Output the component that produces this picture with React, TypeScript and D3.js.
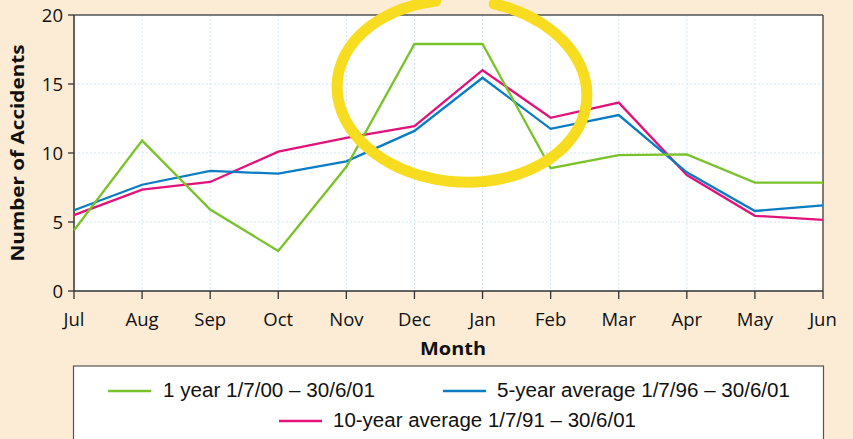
import React from "react";
import * as d3 from "d3";

const months = ["Jul", "Aug", "Sep", "Oct", "Nov", "Dec", "Jan", "Feb", "Mar", "Apr", "May", "Jun"];
const oneYear = [4.4, 10.9, 5.9, 2.9, 9.0, 17.9, 17.9, 8.9, 9.85, 9.9, 7.85, 7.85];
const fiveYear = [5.85, 7.7, 8.7, 8.5, 9.4, 11.6, 15.45, 11.75, 12.75, 8.6, 5.8, 6.2];
const tenYear = [5.5, 7.35, 7.9, 10.1, 11.1, 11.95, 16.0, 12.55, 13.65, 8.4, 5.45, 5.15];
const yTicks = [0, 5, 10, 15, 20];
const seriesNames = ["1 year 1/7/00 – 30/6/01", "5-year average 1/7/96 – 30/6/01", "10-year average 1/7/91 – 30/6/01"];

const W = 853, H = 439;
const L = 74, R = 823, T = 15, B = 291;
const GREEN = "#7ac22a", BLUE = "#0a7cc3", PINK = "#e2127b";
const font = "'Open Sans', 'Noto Sans', sans-serif";
const narrow = "'Liberation Sans Narrow', 'Liberation Sans', sans-serif";

export default function App() {
  const x = d3.scalePoint<string>().domain(months).range([L, R]);
  const y = d3.scaleLinear().domain([0, 20]).range([B, T]);
  const line = d3.line<number>().x((_, i) => x(months[i]) as number).y((d) => y(d));
  const series = [
    { v: tenYear, c: PINK },
    { v: fiveYear, c: BLUE },
    { v: oneYear, c: GREEN },
  ];

  // annotation ellipse (hand-drawn highlight), open at top
  const cx = 462, cy = 91, rx = 125, ry = 91, rot = 4 * Math.PI / 180;
  const pts: [number, number][] = [];
  for (let a = -78; a <= 255; a += 3) {
    const t = (a * Math.PI) / 180;
    const px = rx * Math.cos(t), py = ry * Math.sin(t);
    pts.push([cx + px * Math.cos(rot) - py * Math.sin(rot), cy + px * Math.sin(rot) + py * Math.cos(rot)]);
  }
  const ell = d3.line().curve(d3.curveCatmullRom)(pts) as string;

  const legendItems = [
    { name: seriesNames[0], c: GREEN, lx: 108, tx: 163, ty: 397, tw: 212 },
    { name: seriesNames[1], c: BLUE, lx: 443, tx: 497, ty: 397, tw: 293 },
    { name: seriesNames[2], c: PINK, lx: 279, tx: 333, ty: 427, tw: 303 },
  ];

  return (
    <svg width={W} height={H} style={{ position: "absolute", left: 0, top: 0 }}>
      <rect x={0} y={0} width={W} height={H} fill="#fcecd6" />
      <rect x={L} y={T} width={R - L} height={B - T} fill="#ffffff" />
      {/* grid */}
      {months.map((m) => (
        <line key={m} x1={x(m)} x2={x(m)} y1={T} y2={B} stroke="#cfe6f8" strokeWidth={1} strokeDasharray="2,2" />
      ))}
      {yTicks.map((t) => (
        <line key={t} x1={L} x2={R} y1={y(t)} y2={y(t)} stroke="#cfe6f8" strokeWidth={1} strokeDasharray="2,2" />
      ))}
      {/* frame */}
      <line x1={L} x2={R} y1={T} y2={T} stroke="#555" strokeWidth={1.5} />
      <line x1={R} x2={R} y1={T} y2={B} stroke="#555" strokeWidth={1.5} />
      <line x1={L} x2={R} y1={B} y2={B} stroke="#333" strokeWidth={1.5} />
      <line x1={L} x2={L} y1={T} y2={B} stroke="#333" strokeWidth={1.5} />
      {/* ticks */}
      {months.map((m) => (
        <g key={m}>
          <line x1={x(m)} x2={x(m)} y1={B} y2={B + 8} stroke="#333" strokeWidth={1.3} />
          <text x={x(m)} y={326} textAnchor="middle" fontFamily={font} fontSize={18.5} fill="#111">{m}</text>
        </g>
      ))}
      {yTicks.map((t) => (
        <g key={t}>
          <line x1={L - 6} x2={L} y1={y(t)} y2={y(t)} stroke="#333" strokeWidth={1.3} />
          <text x={63} y={y(t) + 6.5} textAnchor="end" fontFamily={font} fontSize={18.5} fill="#111">{t}</text>
        </g>
      ))}
      {/* series */}
      {series.map((s, i) => (
        <path key={i} d={line(s.v) as string} fill="none" stroke={s.c} strokeWidth={2.3} strokeLinejoin="miter" />
      ))}
      {/* axis titles */}
      <text x={453} y={355} textAnchor="middle" fontFamily={font} fontWeight="bold" fontSize={17.5} fill="#111" textLength={66} lengthAdjust="spacingAndGlyphs">Month</text>
      <text transform="translate(24,153) rotate(-90)" textAnchor="middle" fontFamily={font} fontWeight="bold" fontSize={17.5} fill="#111" textLength={217} lengthAdjust="spacingAndGlyphs">Number of Accidents</text>
      {/* legend */}
      <rect x={73.5} y={366} width={750} height={90} fill="#ffffff" stroke="#555" strokeWidth={1.2} />
      {legendItems.map((it) => (
        <g key={it.name}>
          <line x1={it.lx} x2={it.lx + 43} y1={it.ty - 6} y2={it.ty - 6} stroke={it.c} strokeWidth={2.5} />
          <text x={it.tx} y={it.ty} fontFamily={narrow} fontSize={20} fill="#111" textLength={it.tw} lengthAdjust="spacingAndGlyphs">{it.name}</text>
        </g>
      ))}
      {/* hand-drawn highlight */}
      <path d={ell} fill="none" stroke="#f7dc1f" strokeWidth={11} strokeLinecap="round" />
    </svg>
  );
}
